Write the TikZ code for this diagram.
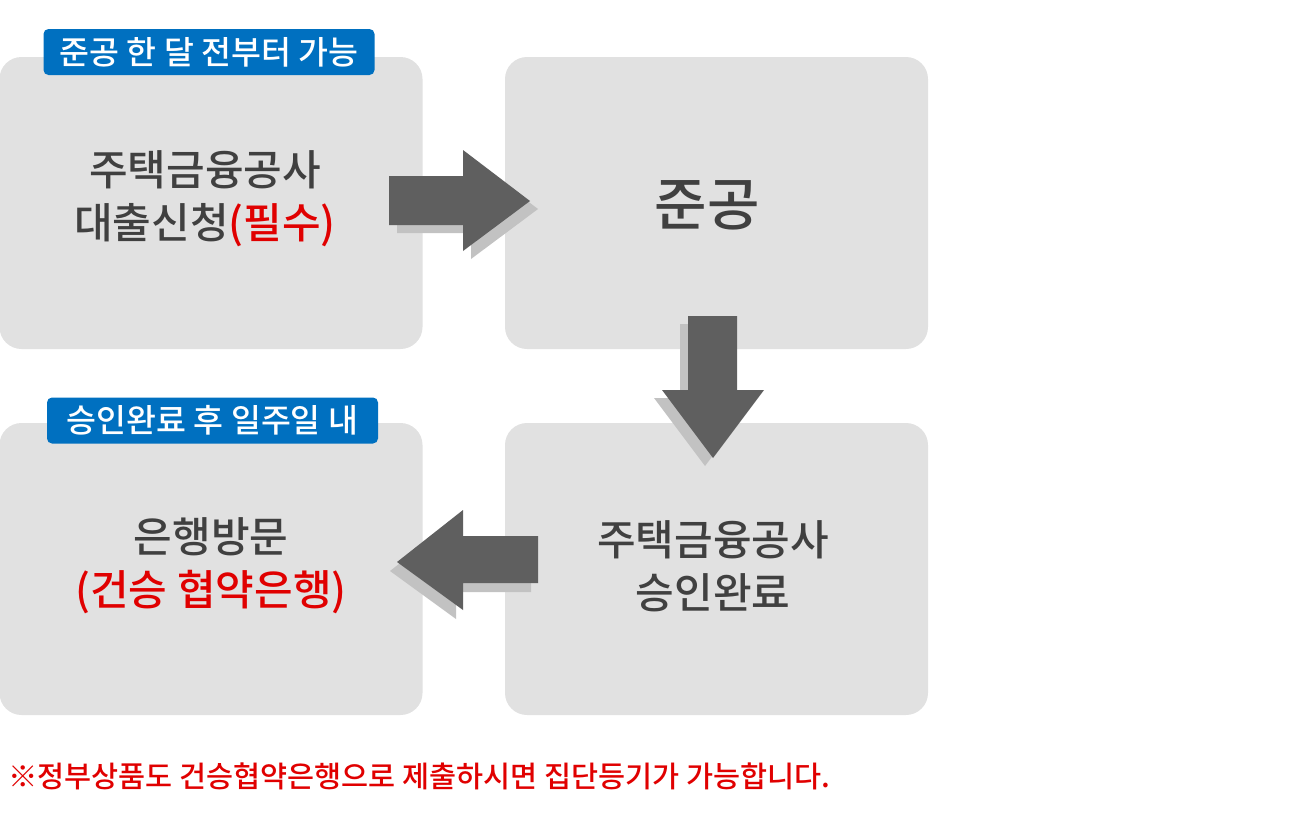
\documentclass[tikz,border=0pt]{standalone}
\usepackage{fontspec}
\setmainfont{Noto Sans CJK KR}[UprightFont=* Medium, BoldFont=* Bold]
\usetikzlibrary{positioning}
\definecolor{boxgray}{HTML}{E1E1E1}
\definecolor{arrowgray}{HTML}{5F5F5F}
\definecolor{shadowgray}{HTML}{C2C2C2}
\definecolor{txtgray}{HTML}{404040}
\definecolor{accred}{HTML}{E00000}
\definecolor{tagblue}{HTML}{0070C0}
\tikzset{
  stepbox/.style={fill=boxgray, draw=none, rounded corners=22pt, minimum width=423pt, minimum height=292pt, inner sep=0pt},
  boxtext/.style={text=txtgray, align=center, font=\fontsize{42pt}{53pt}\selectfont, inner sep=0pt},
  tag/.style={fill=tagblue, text=white, rounded corners=5pt, minimum width=331pt, minimum height=46pt, inner sep=0pt, font=\fontsize{32.5pt}{36pt}\selectfont},
  blockarrow/.style={fill=arrowgray, draw=none},
  blockshadow/.style={fill=shadowgray, draw=none},
}
\begin{document}
\begin{tikzpicture}[x=1pt,y=-1pt]
\useasboundingbox (0,0) rectangle (1300,828);
% boxes
\node[stepbox] (b1) at (211,203) {};
\node[stepbox] (b2) at (716.5,203) {};
\node[stepbox] (b3) at (211,569) {};
\node[stepbox] (b4) at (716.5,569) {};
% tags
\node[tag] (t1) at (209,52) {준공 한 달 전부터 가능};
\node[tag] (t2) at (212.5,420.5) {승인완료 후 일주일 내};
% texts
\node[boxtext] (x1) at (205,199) {주택금융공사\\대출신청{\color{accred}(필수)}};
\node[boxtext, font=\fontsize{57pt}{60pt}\selectfont] (x2) at (707,205) {준공};
\node[boxtext] (x3) at (211,566) {은행방문\\{\color{accred}(건승 협약은행)}};
\node[boxtext] (x4) at (713,566) {주택금융공사\\승인완료};
% right arrow
\begin{scope}[shift={(8,8)}]
\fill[blockshadow] (389,176) -- (463,176) -- (463,150) -- (530,201) -- (463,251) -- (463,225) -- (389,225) -- cycle;
\end{scope}
\fill[blockarrow] (389,176) -- (463,176) -- (463,150) -- (530,201) -- (463,251) -- (463,225) -- (389,225) -- cycle;
% down arrow
\begin{scope}[shift={(-8,8)}]
\fill[blockshadow] (688,316) -- (737,316) -- (737,390) -- (764,390) -- (713,458) -- (662,390) -- (688,390) -- cycle;
\end{scope}
\fill[blockarrow] (688,316) -- (737,316) -- (737,390) -- (764,390) -- (713,458) -- (662,390) -- (688,390) -- cycle;
% left arrow
\begin{scope}[shift={(-7,9)}]
\fill[blockshadow] (538,536) -- (463,536) -- (463,510) -- (397,562) -- (463,610) -- (463,583) -- (538,583) -- cycle;
\end{scope}
\fill[blockarrow] (538,536) -- (463,536) -- (463,510) -- (397,562) -- (463,610) -- (463,583) -- (538,583) -- cycle;
% footnote
\node[anchor=west, text=accred, inner sep=0pt, font=\fontsize{29.4pt}{34pt}\selectfont] (note) at (8,776) {※정부상품도 건승협약은행으로 제출하시면 집단등기가 가능합니다.};
\end{tikzpicture}
\end{document}
